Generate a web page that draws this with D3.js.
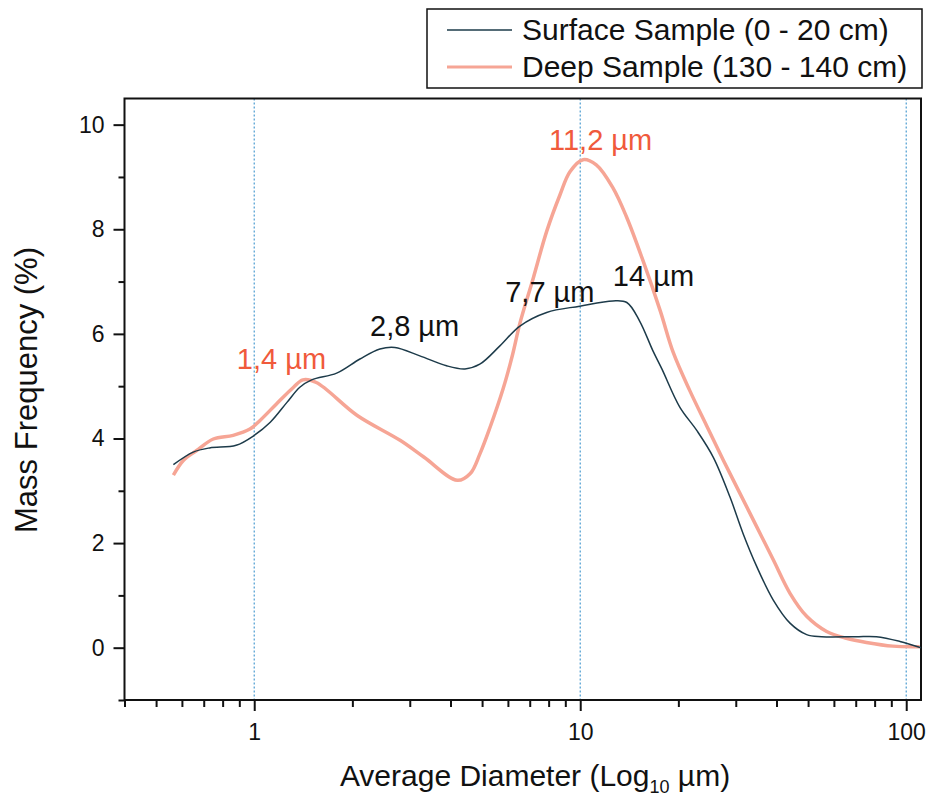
<!DOCTYPE html>
<html>
<head>
<meta charset="utf-8">
<script src="https://cdn.jsdelivr.net/npm/d3@7"></script>
<style>
  body { margin: 0; background: #fff; }
  svg text { font-family: "Liberation Sans", Arial, sans-serif; }
</style>
</head>
<body>
<div class="chart"></div>
<script>
// diameters in µm, values in mass %
var surfaceD = [0.565, 0.65, 0.73, 0.88, 1.0, 1.12, 1.26, 1.38, 1.5, 1.79, 2.11, 2.43, 2.7, 3.22, 3.89, 4.43, 4.92, 5.67, 6.53, 7.89, 9.96, 12.6, 13.9, 15.2, 16.7, 17.8, 20.2, 22.8, 25.6, 28.8, 31.6, 34.8, 39.1, 44, 49.5, 55, 70, 81, 95.6, 111];
var surfaceV = [3.50, 3.74, 3.82, 3.87, 4.06, 4.31, 4.69, 4.98, 5.12, 5.25, 5.52, 5.71, 5.74, 5.58, 5.39, 5.33, 5.42, 5.77, 6.15, 6.41, 6.53, 6.63, 6.60, 6.25, 5.68, 5.33, 4.60, 4.15, 3.64, 2.88, 2.18, 1.55, 0.91, 0.47, 0.25, 0.21, 0.21, 0.21, 0.12, 0.0];

var deepD = [0.565, 0.606, 0.666, 0.749, 0.862, 0.97, 1.04, 1.17, 1.32, 1.41, 1.55, 2.07, 2.81, 3.32, 4.2, 4.6, 4.92, 5.28, 5.8, 6.2, 6.53, 7.18, 7.89, 8.67, 9.3, 10.2, 11.2, 12.6, 13.9, 15.6, 17.6, 19.3, 21.7, 24.4, 27.5, 30.9, 34.8, 39.1, 44, 49.5, 57, 65.5, 75.5, 91, 110];
var deepV = [3.30, 3.58, 3.77, 3.99, 4.06, 4.18, 4.34, 4.66, 4.98, 5.12, 5.07, 4.44, 3.96, 3.64, 3.2, 3.33, 3.7, 4.2, 4.95, 5.6, 6.2, 7.07, 7.96, 8.66, 9.10, 9.33, 9.23, 8.79, 8.22, 7.39, 6.44, 5.64, 4.91, 4.25, 3.58, 2.95, 2.31, 1.68, 1.04, 0.60, 0.31, 0.18, 0.10, 0.03, 0.02];

var xMajor = [1, 10, 100];
var xMinor = [0.4, 0.5, 0.6, 0.7, 0.8, 0.9, 2, 3, 4, 5, 6, 7, 8, 9, 20, 30, 40, 50, 60, 70, 80, 90];
var yMajor = [0, 2, 4, 6, 8, 10];
var yMinor = [-1, 1, 3, 5, 7, 9];

var seriesNames = ["Surface Sample (0 - 20 cm)", "Deep Sample (130 - 140 cm)"];
var peakLabels = [
  {text: "11,2 µm", d: 10.2, v: 9.33, red: true},
  {text: "7,7 µm", d: 7.7, v: 6.45, red: false},
  {text: "14 µm", d: 14, v: 6.6, red: false},
  {text: "2,8 µm", d: 2.8, v: 5.74, red: false},
  {text: "1,4 µm", d: 1.4, v: 5.12, red: true}
];

var svgWidth = 937, svgHeight = 800;
var plotL = 124.5, plotR = 921, plotT = 98.5, plotB = 700;
var darkColor = "#1d3b4a", redColor = "#f6a595", redText = "#f05a3c";

var svg = d3.select(".chart").append("svg")
  .attr("width", svgWidth)
  .attr("height", svgHeight);

var x = d3.scaleLog().domain([0.4, 111]).range([plotL, plotR]);
var y = d3.scaleLinear().domain([-1, 10.5]).range([plotB, plotT]);

// dotted grid at decades
svg.selectAll(".grid")
  .data(xMajor)
  .enter().append("line")
  .attr("x1", function(d) { return x(d); })
  .attr("x2", function(d) { return x(d); })
  .attr("y1", plotT)
  .attr("y2", plotB)
  .attr("stroke", "#4a9bd0")
  .attr("stroke-width", 1.2)
  .attr("stroke-dasharray", "2,2");

// axes
var xAxis = d3.axisBottom(x).tickValues(xMajor).tickSize(11).tickPadding(13).tickFormat(d3.format("d"));
var xAxisMinor = d3.axisBottom(x).tickValues(xMinor).tickSize(7).tickFormat("");
var yAxis = d3.axisLeft(y).tickValues(yMajor).tickSize(11).tickPadding(9).tickFormat(d3.format("d"));
var yAxisMinor = d3.axisLeft(y).tickValues(yMinor).tickSize(6).tickFormat("");

[xAxis, xAxisMinor].forEach(function(a) {
  svg.append("g").attr("transform", "translate(0," + plotB + ")").call(a);
});
[yAxis, yAxisMinor].forEach(function(a) {
  svg.append("g").attr("transform", "translate(" + plotL + ",0)").call(a);
});
svg.selectAll(".domain").remove();
svg.selectAll(".tick line").attr("stroke", "#111").attr("stroke-width", 2);
svg.selectAll(".tick text").attr("font-size", 23).attr("fill", "#111")
  .style("font-family", "'Liberation Sans', Arial, sans-serif");

// frame
svg.append("rect")
  .attr("x", plotL).attr("y", plotT)
  .attr("width", plotR - plotL).attr("height", plotB - plotT)
  .attr("fill", "none").attr("stroke", "#111").attr("stroke-width", 2);

// curves
var line = d3.line()
  .x(function(d) { return x(d[0]); })
  .y(function(d) { return y(d[1]); })
  .curve(d3.curveCatmullRom.alpha(0.5));

var deep = d3.zip(deepD, deepV);
var surface = d3.zip(surfaceD, surfaceV);

svg.append("path").datum(deep)
  .attr("d", line).attr("fill", "none")
  .attr("stroke", redColor).attr("stroke-width", 3.5);
svg.append("path").datum(surface)
  .attr("d", line).attr("fill", "none")
  .attr("stroke", darkColor).attr("stroke-width", 1.5);

// peak labels
var offsets = {"11,2 µm": [-34, -10], "7,7 µm": [-38, -8], "14 µm": [-15, -16], "2,8 µm": [-30, -11], "1,4 µm": [-65, -11]};
svg.selectAll(".peak")
  .data(peakLabels)
  .enter().append("text")
  .attr("x", function(d) { return x(d.d) + offsets[d.text][0]; })
  .attr("y", function(d) { return y(d.v) + offsets[d.text][1]; })
  .attr("font-size", 29)
  .attr("fill", function(d) { return d.red ? redText : "#111"; })
  .text(function(d) { return d.text; });

// axis titles
svg.append("text")
  .attr("x", 535).attr("y", 786)
  .attr("text-anchor", "middle")
  .attr("font-size", 30).attr("fill", "#111")
  .html("Average Diameter (Log<tspan font-size='18' dy='7'>10</tspan><tspan dy='-7'> µm)</tspan>");

svg.append("text")
  .attr("transform", "translate(37,390) rotate(-90)")
  .attr("text-anchor", "middle")
  .attr("font-size", 31).attr("fill", "#111")
  .text("Mass Frequency (%)");

// legend
var legend = svg.append("g");
legend.append("rect")
  .attr("x", 427).attr("y", 9).attr("width", 495).attr("height", 79)
  .attr("fill", "#fff").attr("stroke", "#111").attr("stroke-width", 1.5);
var legendColors = [darkColor, redColor];
var legendWidths = [1.5, 3];
seriesNames.forEach(function(name, i) {
  var ly = 30 + i * 37;
  legend.append("line")
    .attr("x1", 447).attr("x2", 512).attr("y1", ly).attr("y2", ly)
    .attr("stroke", legendColors[i]).attr("stroke-width", legendWidths[i]);
  legend.append("text")
    .attr("x", 522).attr("y", ly + 10)
    .attr("font-size", 30).attr("fill", "#111")
    .text(name);
});
</script>
</body>
</html>
